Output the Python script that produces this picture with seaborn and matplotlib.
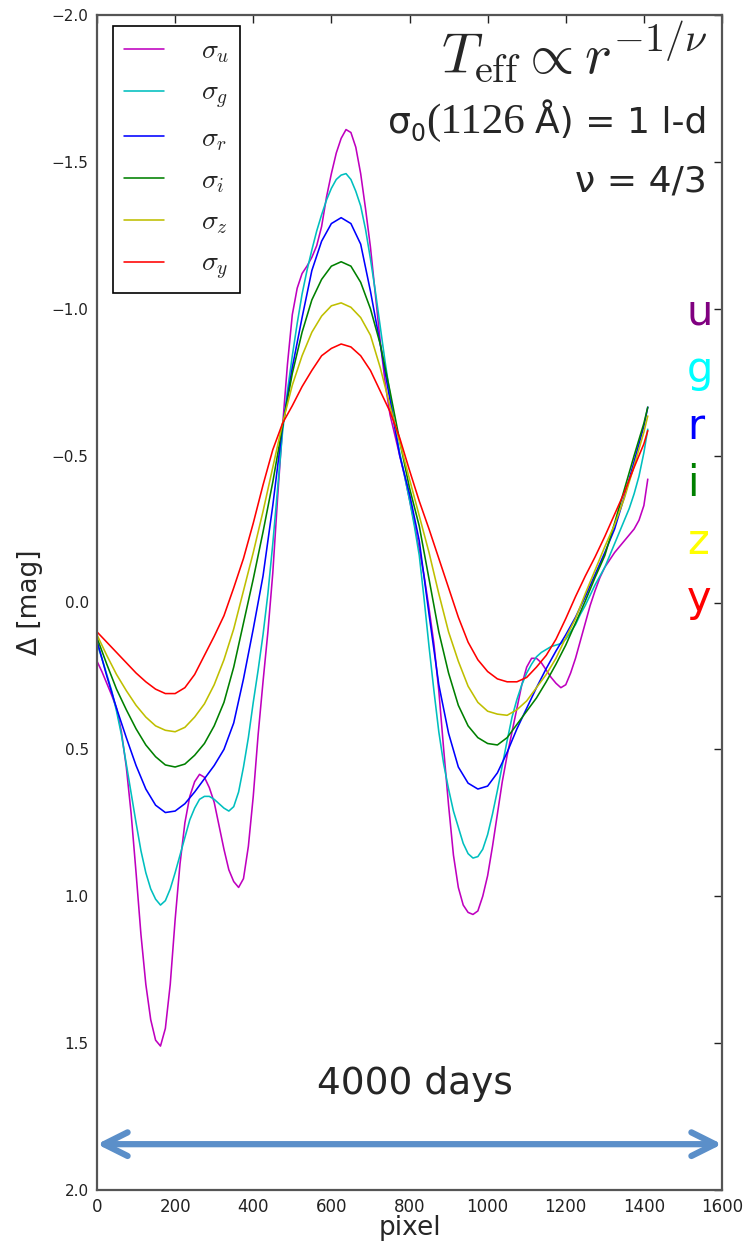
import numpy as np
import pandas as pd
import matplotlib
matplotlib.use("Agg")
import matplotlib.pyplot as plt
from matplotlib.transforms import IdentityTransform, blended_transform_factory
import seaborn as sns

# ---------------- data ----------------
# fine sampling (every 12.5 pixel) for the two most structured curves
pixel_fine = [0, 12.5, 25, 37.5, 50, 62.5, 75, 87.5, 100, 112.5, 125, 137.5, 150,
              162.5, 175, 187.5, 200, 212.5, 225, 237.5, 250, 262.5, 275, 287.5,
              300, 312.5, 325, 337.5, 350, 362.5, 375, 387.5, 400, 412.5, 425,
              437.5, 450, 462.5, 475, 487.5, 500, 512.5, 525, 537.5, 550, 562.5,
              575, 587.5, 600, 612.5, 625, 637.5, 650, 662.5, 675, 687.5, 700,
              712.5, 725, 737.5, 750, 762.5, 775, 787.5, 800, 812.5, 825, 837.5,
              850, 862.5, 875, 887.5, 900, 912.5, 925, 937.5, 950, 962.5, 975,
              987.5, 1000, 1012.5, 1025, 1037.5, 1050, 1062.5, 1075, 1087.5, 1100,
              1112.5, 1125, 1137.5, 1150, 1162.5, 1175, 1187.5, 1200, 1212.5, 1225,
              1237.5, 1250, 1262.5, 1275, 1287.5, 1300, 1312.5, 1325, 1337.5, 1350,
              1362.5, 1375, 1387.5, 1400, 1410]
# coarser sampling (every 25 pixel) for the smoother curves
pixel = [0, 25, 50, 75, 100, 125, 150, 175, 200, 225, 250, 275, 300, 325, 350,
         375, 400, 425, 450, 475, 500, 525, 550, 575, 600, 625, 650, 675, 700,
         725, 750, 775, 800, 825, 850, 875, 900, 925, 950, 975, 1000, 1025, 1050,
         1075, 1100, 1125, 1150, 1175, 1200, 1225, 1250, 1275, 1300, 1325, 1350,
         1375, 1400, 1410]

delta_u = [0.20, 0.235, 0.275, 0.315, 0.36, 0.44, 0.56, 0.72, 0.92, 1.13, 1.30,
           1.42, 1.49, 1.51, 1.45, 1.30, 1.08, 0.89, 0.75, 0.66, 0.61, 0.585,
           0.595, 0.63, 0.68, 0.76, 0.84, 0.91, 0.95, 0.97, 0.94, 0.83, 0.66,
           0.45, 0.27, 0.10, -0.10, -0.36, -0.60, -0.81, -0.98, -1.07, -1.12,
           -1.145, -1.175, -1.215, -1.28, -1.38, -1.46, -1.53, -1.58, -1.61,
           -1.60, -1.55, -1.46, -1.34, -1.21, -1.05, -0.89, -0.75, -0.64, -0.57,
           -0.50, -0.43, -0.35, -0.27, -0.18, -0.09, 0.02, 0.14, 0.30, 0.50, 0.69,
           0.86, 0.97, 1.03, 1.055, 1.062, 1.05, 1.00, 0.93, 0.83, 0.72, 0.61,
           0.52, 0.44, 0.36, 0.28, 0.22, 0.19, 0.19, 0.205, 0.23, 0.255, 0.275,
           0.29, 0.28, 0.24, 0.19, 0.13, 0.07, 0.01, -0.04, -0.085, -0.12, -0.145,
           -0.17, -0.19, -0.21, -0.23, -0.25, -0.28, -0.33, -0.42]
delta_g = [0.14, 0.19, 0.245, 0.30, 0.37, 0.45, 0.55, 0.65, 0.75, 0.845, 0.92,
           0.975, 1.01, 1.03, 1.015, 0.975, 0.92, 0.86, 0.80, 0.74, 0.70, 0.67,
           0.66, 0.66, 0.67, 0.685, 0.70, 0.71, 0.695, 0.645, 0.56, 0.46, 0.34,
           0.23, 0.11, -0.03, -0.20, -0.39, -0.58, -0.72, -0.84, -0.95, -1.05,
           -1.13, -1.20, -1.265, -1.32, -1.37, -1.41, -1.44, -1.455, -1.46, -1.44,
           -1.40, -1.35, -1.27, -1.17, -1.06, -0.94, -0.82, -0.71, -0.60, -0.51,
           -0.43, -0.35, -0.26, -0.16, -0.01, 0.15, 0.30, 0.44, 0.55, 0.635, 0.71,
           0.765, 0.82, 0.855, 0.87, 0.865, 0.84, 0.79, 0.72, 0.64, 0.555, 0.47,
           0.39, 0.33, 0.28, 0.24, 0.21, 0.185, 0.17, 0.16, 0.15, 0.145, 0.14,
           0.125, 0.10, 0.075, 0.04, 0.01, -0.025, -0.06, -0.09, -0.12, -0.16,
           -0.20, -0.24, -0.28, -0.32, -0.37, -0.43, -0.51, -0.59]
delta_r = [0.13, 0.25, 0.36, 0.46, 0.555, 0.635, 0.69, 0.715, 0.71, 0.685, 0.645,
           0.60, 0.555, 0.50, 0.41, 0.26, 0.09, -0.09, -0.33, -0.60, -0.80, -0.97,
           -1.13, -1.23, -1.29, -1.31, -1.29, -1.22, -1.06, -0.88, -0.69, -0.50,
           -0.37, -0.21, 0.04, 0.28, 0.445, 0.56, 0.615, 0.635, 0.625, 0.58, 0.51,
           0.43, 0.36, 0.29, 0.225, 0.165, 0.11, 0.05, -0.02, -0.095, -0.17, -0.25,
           -0.36, -0.48, -0.60, -0.665]
delta_i = [0.12, 0.21, 0.295, 0.365, 0.43, 0.485, 0.525, 0.553, 0.56, 0.55, 0.52,
           0.48, 0.42, 0.34, 0.22, 0.07, -0.08, -0.24, -0.41, -0.60, -0.78, -0.92,
           -1.03, -1.10, -1.145, -1.16, -1.145, -1.09, -1.00, -0.88, -0.72, -0.55,
           -0.39, -0.26, -0.08, 0.10, 0.24, 0.35, 0.42, 0.46, 0.48, 0.485, 0.46,
           0.415, 0.37, 0.325, 0.27, 0.21, 0.145, 0.07, -0.005, -0.085, -0.16,
           -0.27, -0.385, -0.50, -0.61, -0.665]
delta_z = [0.11, 0.18, 0.245, 0.30, 0.35, 0.39, 0.42, 0.435, 0.44, 0.425, 0.39,
           0.345, 0.28, 0.195, 0.09, -0.04, -0.17, -0.31, -0.46, -0.61, -0.74,
           -0.84, -0.92, -0.975, -1.01, -1.02, -1.005, -0.97, -0.91, -0.80, -0.67,
           -0.545, -0.42, -0.295, -0.17, -0.03, 0.10, 0.20, 0.285, 0.34, 0.37, 0.38,
           0.384, 0.365, 0.335, 0.29, 0.245, 0.19, 0.12, 0.055, -0.03, -0.11, -0.19,
           -0.265, -0.355, -0.465, -0.58, -0.635]
delta_y = [0.10, 0.135, 0.17, 0.205, 0.24, 0.27, 0.295, 0.31, 0.31, 0.29, 0.245,
           0.18, 0.115, 0.045, -0.05, -0.15, -0.27, -0.40, -0.52, -0.61, -0.67,
           -0.735, -0.79, -0.84, -0.865, -0.88, -0.87, -0.84, -0.79, -0.72, -0.65,
           -0.56, -0.45, -0.345, -0.25, -0.15, -0.05, 0.05, 0.135, 0.195, 0.235,
           0.26, 0.27, 0.27, 0.255, 0.22, 0.18, 0.125, 0.055, -0.02, -0.09, -0.155,
           -0.225, -0.30, -0.375, -0.46, -0.54, -0.585]

bands = ["u", "g", "r", "i", "z", "y"]
band_pixels = [pixel_fine, pixel_fine, pixel, pixel, pixel, pixel]
series = [delta_u, delta_g, delta_r, delta_i, delta_z, delta_y]
legend_labels = [r"$\sigma_u$", r"$\sigma_g$", r"$\sigma_r$", r"$\sigma_i$",
                 r"$\sigma_z$", r"$\sigma_y$"]
line_colors = [(0.75, 0, 0.75), (0, 0.75, 0.75), (0, 0, 1), (0, 0.5, 0),
               (0.75, 0.75, 0), (1, 0, 0)]
side_letters = ["u", "g", "r", "i", "z", "y"]
side_colors = ["#800080", "#00FFFF", "#0000FF", "#008000", "#FFFF00", "#FF0000"]
xticks = [0, 200, 400, 600, 800, 1000, 1200, 1400, 1600]
yticks = [-2.0, -1.5, -1.0, -0.5, 0.0, 0.5, 1.0, 1.5, 2.0]

df = pd.concat([pd.DataFrame({"pixel": px, "delta": vals, "band": b})
                for b, px, vals in zip(bands, band_pixels, series)],
               ignore_index=True)

# ---------------- style ----------------
sns.set_style("white")
plt.rcParams["font.family"] = ["DejaVu Sans"]
plt.rcParams["mathtext.fontset"] = "cm"

W, H = 749, 1243
fig = plt.figure(figsize=(W / 100, H / 100), dpi=100)
ax = fig.add_axes([97 / W, 1 - 1190 / H, 625 / W, 1175 / H])

for band, lab, col in zip(bands, legend_labels, line_colors):
    sns.lineplot(data=df[df["band"] == band], x="pixel", y="delta", color=col,
                 lw=1.15, label=lab, ax=ax, sort=False, estimator=None)

ax.set_xlim(0, 1600)
ax.set_ylim(2.0, -2.0)
ax.set_xticks(xticks)
ax.set_xticklabels([str(v) for v in xticks])
ax.set_yticks(yticks)
ax.set_yticklabels([f"{v:.1f}".replace("-", "\u2212") for v in yticks])
ax.tick_params(direction="in", length=6, width=1, top=True, right=True,
               colors="#222222", pad=6)
ax.tick_params(axis="y", labelsize=11)
ax.tick_params(axis="x", labelsize=12)
for s in ax.spines.values():
    s.set_color("#555555")
    s.set_linewidth(1.6)
ax.grid(False)

ax.set_xlabel("pixel", fontsize=19)
ax.xaxis.set_label_coords(0.5, -0.0215)
ax.set_ylabel("\u0394 [mag]", fontsize=19)
ax.yaxis.set_label_coords(-0.086, 0.5)

leg = ax.legend(loc="upper left", bbox_to_anchor=(0.0256, 0.9906), borderaxespad=0,
                fontsize=20, frameon=True, fancybox=False, shadow=False,
                edgecolor="black", handlelength=1.45, handletextpad=1.35,
                borderpad=0.38, labelspacing=0.47)
leg.get_frame().set_linewidth(1.2)
leg.get_frame().set_alpha(1)

# annotations
ax.text(0.976, 0.9506, r"$T_{\rm eff} \propto r^{-1/\nu}$", transform=ax.transAxes,
        ha="right", va="baseline", fontsize=41)
ax.text(0.976, 0.8494, "\u03bd = 4/3", transform=ax.transAxes, ha="right",
        va="baseline", fontsize=26)

fig.canvas.draw()
renderer = fig.canvas.get_renderer()
bx, by = ax.transAxes.transform((0.976, 0.8996))
pieces = [("\u00c5) = 1 l-d", ["DejaVu Sans"], 26, 0, 10),
          ("(1126", ["Liberation Serif", "DejaVu Serif"], 31, 0, 0),
          ("0", ["DejaVu Sans"], 17, -8, 0),
          ("\u03c3", ["DejaVu Sans"], 26, 0, 0)]
cur = bx
for txt, fam, size, dy, gap in pieces:
    t = ax.text(cur, by + dy, txt, transform=IdentityTransform(), ha="right",
                va="baseline", fontsize=size, family=fam)
    bb = t.get_window_extent(renderer=renderer)
    cur = bb.x0 - gap

side_tr = blended_transform_factory(ax.transAxes, ax.transData)
for k, (letter, col) in enumerate(zip(side_letters, side_colors)):
    ax.text(0.944, -0.946 + 0.195 * k, letter, transform=side_tr, ha="left",
            va="baseline", fontsize=30, color=col)

ax.text(814, 1.673, "4000 days", ha="center", va="baseline", fontsize=27)
ax.annotate("", xy=(1600, 1.844), xytext=(0, 1.844),
            arrowprops=dict(arrowstyle="<->,head_length=1.7,head_width=0.85",
                            lw=4.5, color="#5B8FC9", shrinkA=0, shrinkB=0,
                            mutation_scale=10, capstyle="round",
                            joinstyle="round"),
            annotation_clip=False)

fig.savefig("out.png", dpi=100)
